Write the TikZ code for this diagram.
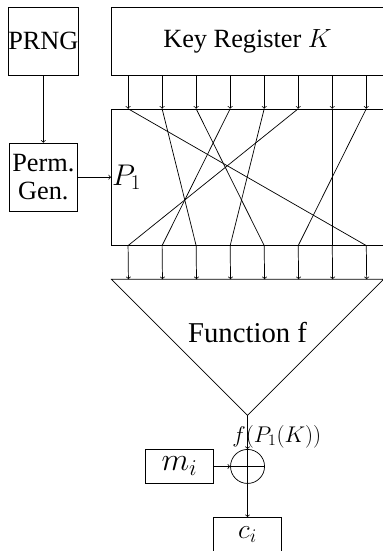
\RequirePackage{fix-cm}
\documentclass[tikz,border=0pt]{standalone}
\usepackage{fontspec}
\setmainfont{Liberation Serif}
\usetikzlibrary{calc}
\tikzset{
  every picture/.style={line width=0.6pt},
  blk/.style={draw, rectangle, inner sep=0pt, align=center,
    font=\fontsize{22}{24}\selectfont},
  lbl/.style={inner sep=0pt, font=\fontsize{22}{24}\selectfont},
  wire/.style={->},
}
\begin{document}
\begin{tikzpicture}
\useasboundingbox (-3.274,0.206) rectangle (7.975,-15.985);
% boxes
\node[blk, minimum width=8cm, minimum height=2cm] (key) at (4,-1) {Key Register $K$};
\node[blk, minimum width=8cm, minimum height=4cm] (perm) at (4,-5) {};
\node[blk, minimum width=2cm, minimum height=2cm] (prng) at (-2,-1) {PRNG};
\node[blk, minimum width=2cm, minimum height=2cm] (pg) at (-2,-5) {Perm.\\Gen.};
\node[lbl, anchor=west, font=\fontsize{25}{27}\selectfont] (p1) at ($(perm.west)+(0.02,0)$) {$P_1$};
% function triangle
\coordinate (tl) at (0,-8);
\coordinate (tr) at (8,-8);
\coordinate (apex) at (4,-12);
\draw (tl) -- (tr) -- (apex) -- cycle;
\node[lbl, font=\fontsize{24}{26}\selectfont] (fn) at (4,-9.57) {Function f};
% wires key -> perm, perm -> function
\foreach \k in {0,...,7} {
  \draw[wire] ($(key.south west)+(\k+0.5,0)$) -- ($(perm.north west)+(\k+0.5,0)$);
  \draw[wire] ($(perm.south west)+(\k+0.5,0)$) -- ($(tl)+(\k+0.5,0)$);
}
% permutation lines
\foreach \a/\b in {1/8,2/3,3/5,4/2,5/4,6/1,7/7,8/6} {
  \draw ($(perm.north west)+(\a-0.5,0)$) -- ($(perm.south west)+(\b-0.5,0)$);
}
% left side
\draw[wire] (prng.south) -- (pg.north);
\draw[wire] (pg.east) -- (perm.west);
% xor part
\node[draw, circle, minimum size=1cm, inner sep=0pt] (xor) at (4,-13.5) {};
\draw (xor.north) -- (xor.south);
\draw (xor.west) -- (xor.east);
\node[blk, minimum width=2cm, minimum height=1cm, font=\fontsize{27}{29}\selectfont] (mi) at (2,-13.5) {$m_i$};
\node[blk, minimum width=2cm, minimum height=1cm, font=\fontsize{23}{25}\selectfont] (ci) at (4,-15.5) {$c_i$};
\node[lbl, font=\fontsize{19}{21}\selectfont] (fout) at (4.86,-12.62) {$f(P_1(K))$};
\draw[wire] (apex) -- (xor.north);
\draw[wire] (mi.east) -- (xor.west);
\draw[wire] (xor.south) -- (ci.north);
\end{tikzpicture}
\end{document}
